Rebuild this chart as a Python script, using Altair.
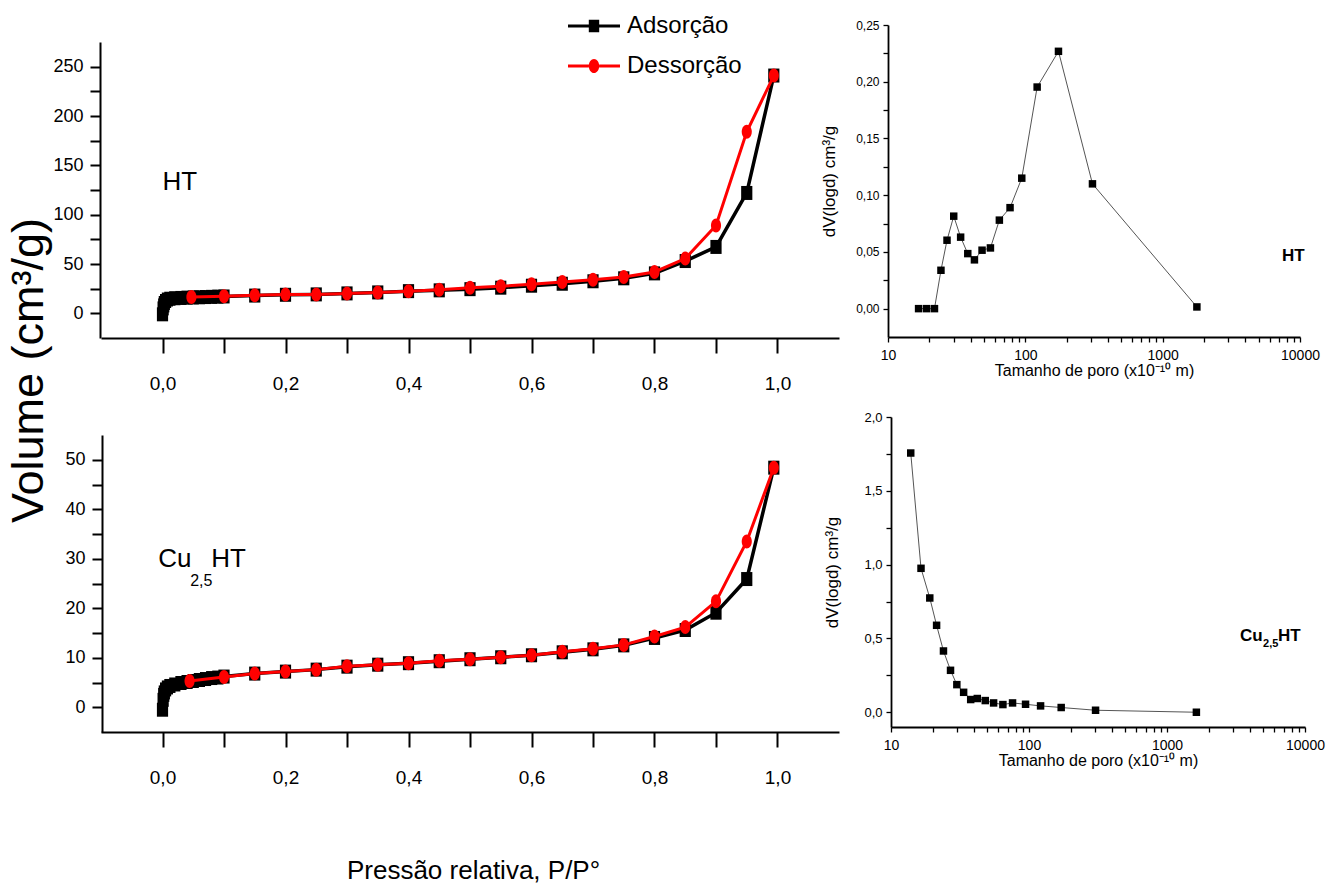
import altair as alt
import pandas as pd

W, H = 1340, 896
NARROW = "Liberation Sans Narrow, Arial Narrow, Liberation Sans, Arial, sans-serif"
ARIAL = "Liberation Sans, Arial, Helvetica, sans-serif"

SERIES = ["Adsorção", "Dessorção"]
SERIES_COLORS = ["#000000", "#ff0000"]

# ---- N2 isotherms (P/P0, volume cm3/g) ----
ht_ads_p = [0.0, 0.001, 0.002, 0.003, 0.005, 0.008, 0.012, 0.02, 0.03, 0.04, 0.05, 0.06, 0.07, 0.08,
            0.09, 0.1, 0.15, 0.2, 0.25, 0.3, 0.35, 0.4, 0.45, 0.5, 0.55, 0.6, 0.65, 0.7, 0.75, 0.8,
            0.85, 0.9, 0.95, 0.994]
ht_ads_v = [-1, 5, 8, 10.5, 12.5, 14, 14.8, 15.3, 15.6, 15.9, 16.1, 16.3, 16.5, 16.7,
            16.9, 17.1, 18.0, 18.8, 19.2, 20.2, 21.2, 22.5, 23.3, 24.5, 26, 28, 30, 32.5, 35.5, 40.5,
            53, 67.3, 122, 241]
ht_des_p = [0.994, 0.95, 0.9, 0.85, 0.8, 0.75, 0.7, 0.65, 0.6, 0.55, 0.5, 0.45, 0.4, 0.35, 0.3,
            0.25, 0.2, 0.15, 0.1, 0.047]
ht_des_v = [241, 184, 89, 55.5, 41.9, 36.8, 34, 31.8, 29.5, 27.4, 26, 24, 22.3, 21, 20,
            19, 19, 18.3, 17.3, 16.6]

cu_ads_p = [0.0, 0.001, 0.002, 0.003, 0.005, 0.008, 0.012, 0.02, 0.03, 0.04, 0.05, 0.06, 0.07, 0.08,
            0.09, 0.1, 0.15, 0.2, 0.25, 0.3, 0.35, 0.4, 0.45, 0.5, 0.55, 0.6, 0.65, 0.7, 0.75, 0.8,
            0.85, 0.9, 0.95, 0.994]
cu_ads_v = [-0.5, 1.5, 2.5, 3.0, 3.6, 4.0, 4.3, 4.6, 4.9, 5.1, 5.3, 5.5, 5.7, 5.9,
            6.0, 6.2, 6.8, 7.2, 7.6, 8.2, 8.6, 8.9, 9.3, 9.7, 10.1, 10.5, 11.1, 11.7, 12.5, 14.0,
            15.6, 19.1, 25.9, 48.4]
cu_des_p = [0.994, 0.95, 0.9, 0.85, 0.8, 0.75, 0.7, 0.65, 0.6, 0.55, 0.5, 0.45, 0.4, 0.35, 0.3,
            0.25, 0.2, 0.15, 0.1, 0.044]
cu_des_v = [48.4, 33.5, 21.4, 16.2, 14.3, 12.6, 11.8, 11.2, 10.5, 10.1, 9.7, 9.4, 8.9, 8.6, 8.3,
            7.6, 7.2, 6.8, 6.1, 5.3]

# ---- pore size distributions ----
ht_psd_d = [16.7, 19.1, 21.8, 24.3, 26.9, 30.1, 33.8, 38.1, 42.6, 48.4, 55.7, 64.7, 77.4, 94.2,
            121.9, 174.3, 308.2, 1775]
ht_psd_v = [0, 0, 0, 0.0338, 0.0603, 0.0815, 0.063, 0.0485, 0.043, 0.0515, 0.0535, 0.078, 0.089,
            0.115, 0.1953, 0.2268, 0.110, 0.0015]
cu_psd_d = [13.9, 16.5, 19.1, 21.4, 24.0, 27.0, 30.0, 33.6, 37.8, 42.2, 48.2, 55.4, 64.7, 76.0,
            94.4, 121.3, 171.1, 303.6, 1633]
cu_psd_v = [1.756, 0.975, 0.774, 0.589, 0.415, 0.284, 0.187, 0.135, 0.086, 0.093, 0.079, 0.063,
            0.052, 0.063, 0.054, 0.043, 0.032, 0.0135, 0.0]

# ---- tick values ----
ISO_X_TICKS = [0.0, 0.1, 0.2, 0.3, 0.4, 0.5, 0.6, 0.7, 0.8, 0.9, 1.0]
HT_Y_TICKS = [0, 25, 50, 75, 100, 125, 150, 175, 200, 225, 250]
CU_Y_TICKS = [0, 5, 10, 15, 20, 25, 30, 35, 40, 45, 50]
LOG_TICKS = [10, 20, 30, 40, 50, 60, 70, 80, 90, 100, 200, 300, 400, 500, 600, 700, 800, 900,
             1000, 2000, 3000, 4000, 5000, 6000, 7000, 8000, 9000, 10000]
PSD_HT_Y_TICKS = [0, 0.025, 0.05, 0.075, 0.1, 0.125, 0.15, 0.175, 0.2, 0.225, 0.25]
PSD_CU_Y_TICKS = [0, 0.25, 0.5, 0.75, 1.0, 1.25, 1.5, 1.75, 2.0]

# marker shapes (vertically stretched like the scanned figure)
SQUARE = "M-0.8,-1H0.8V1H-0.8Z"
ELLIPSE = "M-0.72,0A0.72,1 0 1,0 0.72,0A0.72,1 0 1,0 -0.72,0Z"
LEG_SQ = "M-1,-0.06H-0.2V0.06H-1Z M0.2,-0.06H1V0.06H0.2Z M-0.2,-0.24H0.2V0.24H-0.2Z"
LEG_CI = ("M-1,-0.06H-0.2V0.06H-1Z M0.2,-0.06H1V0.06H0.2Z "
          "M-0.2,0A0.2,0.27 0 1,0 0.2,0A0.2,0.27 0 1,0 -0.2,0Z")

LEGEND = alt.Legend(
    orient="none", legendX=568, legendY=0, title=None, direction="vertical",
    symbolSize=2704, labelFont=NARROW, labelFontSize=24, labelColor="black",
    labelOffset=7, rowPadding=2, padding=0, symbolStrokeWidth=0, symbolOpacity=1,
)

ISO_X_LABEL = "round(datum.value * 10) % 2 == 0 ? replace(format(datum.value, '.1f'), '.', ',') : ''"


def iso_x_axis(axis_y, **kw):
    return alt.Axis(orient="bottom", offset=axis_y - H, values=ISO_X_TICKS, labelExpr=ISO_X_LABEL,
                    tickSize=15, tickWidth=2, domainWidth=2, domainColor="black", tickColor="black",
                    labelPadding=21, labelFont=NARROW, labelFontSize=19, labelColor="black",
                    labelFlush=False, labelOverlap=False, grid=False, **kw)


def iso_y_axis(axis_x, ticks, step, **kw):
    return alt.Axis(orient="left", offset=-axis_x, values=ticks,
                    labelExpr=f"datum.value % {step} == 0 ? format(datum.value, 'd') : ''",
                    tickSize=10, tickWidth=2, domainWidth=2, domainColor="black", tickColor="black",
                    labelPadding=7, labelFont=NARROW, labelFontSize=18, labelColor="black",
                    labelFlush=False, labelOverlap=False, grid=False, **kw)


def iso_panel(ads_p, ads_v, des_p, des_v, x_axis, y_axis, y_dom, y_rng, tag_p, tag_v, tag_parts,
              with_legend=False):
    ads_df = pd.DataFrame({"P": ads_p, "V": ads_v})
    des_df = pd.DataFrame({"P": des_p, "V": des_v})
    x = alt.X("P:Q", scale=alt.Scale(domain=[-0.1, 1.1], range=[101, 839], nice=False, zero=False), axis=x_axis)
    y = alt.Y("V:Q", scale=alt.Scale(domain=y_dom, range=y_rng, nice=False, zero=False), axis=y_axis)
    ads = alt.Chart(ads_df).encode(x=x, y=y)
    des = alt.Chart(des_df).encode(x=x, y=y)
    layers = [
        ads.mark_line(strokeWidth=3.5, color=SERIES_COLORS[0]),
        ads.mark_point(shape=SQUARE, filled=True, size=196, opacity=1, color=SERIES_COLORS[0]),
        des.mark_line(strokeWidth=3, color=SERIES_COLORS[1]),
        des.mark_point(shape=ELLIPSE, filled=True, size=196, opacity=1, color=SERIES_COLORS[1]),
    ]
    if with_legend:
        leg_df = pd.DataFrame({"series": SERIES})
        layers.append(alt.Chart(leg_df).mark_point(filled=True, opacity=1).encode(
            x=alt.value(-500), y=alt.value(-500),
            color=alt.Color("series:N", scale=alt.Scale(domain=SERIES, range=SERIES_COLORS), legend=LEGEND),
            shape=alt.Shape("series:N", scale=alt.Scale(domain=SERIES, range=[LEG_SQ, LEG_CI]), legend=LEGEND),
        ))
    tag_df = pd.DataFrame({"P": [tag_p], "V": [tag_v]})
    for text, dx, dy, size in tag_parts:
        layers.append(alt.Chart(tag_df).mark_text(
            text=text, dx=dx, dy=dy, fontSize=size, font=NARROW, align="left",
            baseline="middle", color="black").encode(x=x, y=y))
    return alt.layer(*layers)


LOG_LABEL = "indexof([10, 100, 1000, 10000], datum.value) >= 0 ? format(datum.value, 'd') : ''"
PSD_TITLE_X = "Tamanho de poro (x10⁻¹⁰ m)"
PSD_TITLE_Y = "dV(logd) cm³/g"


def psd_panel(d, v, x_rng, axis_y, y_dom, y_rng, axis_x, y_ticks, y_label, y_font,
              tag_d, tag_v, tag_parts):
    df = pd.DataFrame({"d": d, "v": v})
    x_axis = alt.Axis(orient="bottom", offset=axis_y - H, values=LOG_TICKS, labelExpr=LOG_LABEL,
                      tickSize=5, tickWidth=1.3, domainWidth=1.8, domainColor="black", tickColor="black",
                      labelPadding=6, labelFont=ARIAL, labelFontSize=14, labelColor="black",
                      labelFlush=False, labelOverlap=False, grid=False,
                      title=PSD_TITLE_X, titleFont=ARIAL, titleFontSize=16, titleFontWeight="normal",
                      titleColor="black", titlePadding=0)
    y_axis = alt.Axis(orient="left", offset=-axis_x, values=y_ticks, labelExpr=y_label,
                      tickSize=5, tickWidth=1.3, domainWidth=1.8, domainColor="black", tickColor="black",
                      labelPadding=4, labelFont=ARIAL, labelFontSize=y_font, labelColor="black",
                      labelFlush=False, labelOverlap=False, grid=False,
                      title=PSD_TITLE_Y, titleFont=ARIAL, titleFontSize=17, titleFontWeight="normal",
                      titleColor="black", titleX=-50, titleBaseline="bottom")
    x = alt.X("d:Q", scale=alt.Scale(type="log", domain=[10, 10000], range=x_rng, nice=False), axis=x_axis)
    y = alt.Y("v:Q", scale=alt.Scale(domain=y_dom, range=y_rng, nice=False, zero=False), axis=y_axis)
    base = alt.Chart(df).encode(x=x, y=y)
    layers = [
        base.mark_line(color="#555555", strokeWidth=1),
        base.mark_point(shape="square", filled=True, size=56, color="black", opacity=1),
    ]
    tag_df = pd.DataFrame({"d": [tag_d], "v": [tag_v]})
    for text, dx, dy, size in tag_parts:
        layers.append(alt.Chart(tag_df).mark_text(
            text=text, dx=dx, dy=dy, fontSize=size, font=ARIAL, fontWeight="bold", align="left",
            baseline="middle", color="black").encode(x=x, y=y))
    return alt.layer(*layers)


iso_top = iso_panel(
    ht_ads_p, ht_ads_v, ht_des_p, ht_des_v,
    iso_x_axis(338, title=None),
    iso_y_axis(100, HT_Y_TICKS, 50, title="Volume (cm³/g)", titleX=-72, titleY=370,
               titleFont=ARIAL, titleFontSize=45, titleFontWeight="normal", titleColor="black",
               titleBaseline="middle", titleAngle=270),
    [-25, 275], [338, 42], 0.0, 133, [("HT", 0, 0, 26)], with_legend=True)

iso_bot = iso_panel(
    cu_ads_p, cu_ads_v, cu_des_p, cu_des_v,
    iso_x_axis(732, title="Pressão relativa, P/P°", titleX=473, titleY=138, titleFont=NARROW,
               titleFontSize=26, titleFontWeight="normal", titleColor="black", titleBaseline="middle"),
    iso_y_axis(102, CU_Y_TICKS, 10, title=None),
    [-5, 55], [732, 435], -0.007, 30, [("Cu", 0, 0, 26), ("2,5", 32, 22, 16), ("HT", 53, 0, 26)])

psd_top = psd_panel(
    ht_psd_d, ht_psd_v, [888, 1300], 337, [-0.025, 0.25], [337, 25], 888, PSD_HT_Y_TICKS,
    "round(datum.value * 1000) % 50 == 0 ? replace(format(datum.value, '.2f'), '.', ',') : ''", 12,
    7400, 0.0464, [("HT", 0, 0, 17)])

psd_bot = psd_panel(
    cu_psd_d, cu_psd_v, [891, 1305], 727, [-0.1, 2.0], [727, 417], 891, PSD_CU_Y_TICKS,
    "round(datum.value * 100) % 50 == 0 ? replace(format(datum.value, '.1f'), '.', ',') : ''", 13,
    3381, 0.5165, [("Cu", 0, 0, 17), ("2,5", 23, 8, 11), ("HT", 38, 0, 17)])

chart = alt.layer(iso_top, iso_bot, psd_top, psd_bot).resolve_scale(
    x="independent", y="independent"
).properties(
    width=W, height=H, padding=0, background="white",
    autosize=alt.AutoSizeParams(type="none"),
).configure_view(stroke=None).configure_axis(grid=False)

chart.save("out.html", embed_options={"renderer": "svg", "actions": False})
